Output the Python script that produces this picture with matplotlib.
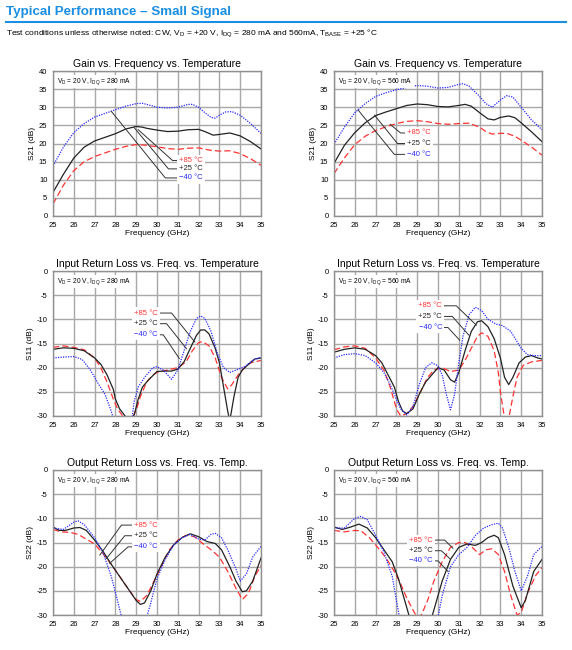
import matplotlib
matplotlib.use("Agg")
import matplotlib.pyplot as plt
import numpy as np

plt.rcParams['font.family'] = ['Liberation Sans', 'DejaVu Sans']
plt.rcParams['axes.unicode_minus'] = False

# ---- Gain, Idq = 280 mA ----
g280_f_m40 = [25, 25.5, 26, 26.5, 27, 27.5, 28, 28.5, 29, 29.3, 29.5, 30, 30.5, 31, 31.5, 31.7, 32, 32.3, 32.6, 32.8, 33, 33.3, 33.6, 34, 34.5, 35]
g280_m40 = [13.8, 19, 23, 25.5, 27.3, 28.3, 29.3, 30.3, 31.0, 31.1, 30.8, 30.0, 29.8, 30.0, 30.8, 30.8, 30.0, 28.5, 27.2, 27.0, 27.8, 28.7, 28.8, 27.8, 25.5, 22.8]
g280_f_p25 = [25, 25.5, 26, 26.5, 27, 27.5, 28, 28.5, 29, 29.3, 29.5, 30, 30.5, 31, 31.5, 32, 32.3, 32.7, 33, 33.5, 34, 34.5, 35]
g280_p25 = [6.5, 11.5, 16, 19, 20.7, 21.7, 22.7, 24.0, 24.7, 24.5, 24.2, 23.7, 23.3, 23.4, 23.8, 23.9, 23.3, 22.3, 22.5, 22.9, 22.1, 20.5, 18.5]
g280_f_p85 = [25, 25.5, 26, 26.5, 27, 27.5, 28, 28.5, 29, 29.5, 30, 30.5, 31, 31.5, 32, 32.5, 33, 33.5, 34, 34.5, 35]
g280_p85 = [3.3, 8.5, 12.5, 15.0, 16.4, 17.4, 18.4, 19.2, 19.7, 19.5, 19.1, 18.6, 18.4, 18.7, 18.8, 18.2, 17.9, 18.0, 17.2, 15.8, 14.0]

# ---- Gain, Idq = 560 mA ----
g560_f_m40 = [25, 25.5, 26, 26.5, 27, 27.5, 28, 28.5, 29, 29.5, 30, 30.5, 31, 31.2, 31.5, 32, 32.3, 32.6, 33, 33.3, 33.6, 34, 34.5, 35]
g560_m40 = [19.8, 24.5, 28.5, 31.0, 33.0, 34.0, 34.8, 35.5, 36.0, 35.8, 35.3, 35.5, 36.3, 36.5, 35.8, 33.0, 31.0, 30.0, 32.0, 33.2, 32.8, 30.0, 26.5, 23.8]
g560_f_p25 = [25, 25.5, 26, 26.5, 27, 27.5, 28, 28.5, 29, 29.5, 30, 30.5, 31, 31.3, 31.6, 32, 32.4, 32.7, 33, 33.4, 33.7, 34, 34.5, 35]
g560_p25 = [14.5, 19.5, 23, 25.7, 27.7, 28.7, 29.6, 30.5, 30.9, 30.7, 30.2, 30.1, 30.5, 30.8, 30.3, 28.5, 26.8, 26.5, 27.2, 27.6, 27.1, 25.7, 23.2, 20.5]
g560_f_p85 = [25, 25.5, 26, 26.5, 27, 27.5, 28, 28.5, 29, 29.5, 30, 30.5, 31, 31.5, 32, 32.3, 32.6, 33, 33.3, 33.7, 34, 34.5, 35]
g560_p85 = [11.7, 16, 19.7, 22, 23.6, 24.6, 25.5, 26.1, 26.3, 26.0, 25.5, 25.3, 25.5, 25.6, 24.5, 23.3, 22.6, 22.8, 22.8, 22.0, 20.9, 19.0, 16.8]

# ---- S11, Idq = 280 mA ----
s11a_f_p25 = [25, 25.5, 26, 26.5, 27, 27.3, 27.6, 27.9, 28.0, 28.2, 28.5, 28.8, 28.9, 29.1, 29.3, 29.6, 30, 30.3, 30.7, 31, 31.3, 31.6, 31.9, 32.1, 32.3, 32.5, 32.8, 33, 33.2, 33.4, 33.5, 33.7, 33.9, 34.1, 34.4, 34.7, 35]
s11a_p25 = [-16.2, -15.9, -16.0, -16.5, -18.0, -19.3, -21.5, -24.5, -26.5, -28.5, -30.2, -30.5, -29.8, -26.5, -24.0, -22.5, -20.8, -20.7, -20.7, -20.3, -18.8, -16.0, -13.3, -12.2, -12.2, -13.0, -16.0, -19.0, -24.0, -29.0, -31.0, -26.0, -22.0, -20.5, -19.3, -18.2, -18.0]
s11a_f_p85 = [25, 25.5, 26, 26.5, 27, 27.3, 27.6, 27.9, 28.1, 28.4, 28.8, 29.0, 29.2, 29.5, 29.8, 30, 30.5, 31, 31.4, 31.7, 32, 32.2, 32.5, 32.8, 33.1, 33.4, 33.6, 33.9, 34.2, 34.5, 35]
s11a_p85 = [-15.8, -15.5, -15.8, -16.3, -18.0, -20.0, -23.0, -26.5, -28.5, -30.3, -30.5, -28.8, -26.0, -23.0, -21.5, -21.0, -20.5, -20.0, -18.8, -16.5, -14.8, -14.6, -15.5, -18.0, -22.0, -24.4, -23.5, -21.5, -20.0, -19.0, -18.5]
s11a_f_m40 = [25, 25.5, 26, 26.4, 26.8, 27.2, 27.5, 27.8, 27.9, 28.8, 28.9, 29.1, 29.4, 29.8, 30, 30.3, 30.7, 31, 31.3, 31.6, 31.9, 32.1, 32.3, 32.6, 32.9, 33.2, 33.5, 33.8, 34.2, 34.6, 35]
s11a_m40 = [-18.0, -17.8, -17.7, -18.3, -20.5, -23.5, -25.5, -29.0, -30.5, -30.5, -27.0, -24.0, -22.0, -20.0, -19.8, -20.5, -22.4, -20.5, -16.5, -12.5, -9.8, -9.3, -9.8, -12.5, -17.0, -20.0, -21.0, -20.5, -19.8, -18.5, -17.8]

# ---- S11, Idq = 560 mA ----
s11b_f_p25 = [25, 25.5, 26, 26.5, 27, 27.3, 27.6, 27.9, 28.1, 28.3, 28.5, 28.8, 29.1, 29.4, 29.7, 30, 30.3, 30.6, 30.8, 31.0, 31.3, 31.6, 31.9, 32.1, 32.4, 32.7, 33.0, 33.2, 33.4, 33.6, 33.9, 34.2, 34.5, 34.8, 35]
s11b_p25 = [-16.8, -16.2, -15.9, -16.2, -17.5, -19.0, -21.5, -24.0, -27.0, -29.0, -29.5, -28.5, -25.5, -23.0, -21.5, -20.0, -20.5, -22.5, -23.0, -21.0, -16.5, -12.5, -10.5, -10.3, -11.5, -14.0, -18.0, -22.0, -23.5, -22.0, -19.0, -17.8, -17.5, -18.0, -18.2]
s11b_f_p85 = [25, 25.5, 26, 26.5, 27, 27.4, 27.7, 28.0, 28.2, 28.5, 28.8, 29.1, 29.5, 29.8, 30.2, 30.6, 31.0, 31.3, 31.6, 31.9, 32.1, 32.4, 32.7, 32.9, 33.0, 33.2, 33.4, 33.6, 33.8, 34.1, 34.5, 35]
s11b_p85 = [-16.3, -15.7, -15.5, -16.0, -18.0, -20.5, -24.0, -28.5, -30.0, -29.5, -28.0, -25.5, -22.0, -20.5, -20.0, -20.8, -20.5, -18.5, -16.0, -13.5, -12.8, -13.5, -16.5, -21.0, -25.0, -30.5, -30.5, -26.0, -22.0, -19.5, -18.8, -18.5]
s11b_f_m40 = [25, 25.5, 26, 26.5, 27, 27.4, 27.7, 28.0, 28.2, 28.5, 28.8, 29.1, 29.4, 29.7, 30.0, 30.2, 30.4, 30.6, 30.8, 31.0, 31.2, 31.5, 31.8, 32.1, 32.4, 32.8, 33.1, 33.5, 34.0, 34.3, 34.6, 35]
s11b_m40 = [-18.0, -17.3, -17.1, -17.5, -19.0, -21.0, -23.5, -26.5, -28.5, -29.8, -28.0, -23.5, -20.0, -19.0, -19.6, -21.5, -25.5, -28.7, -25.5, -19.0, -13.5, -9.0, -7.5, -8.2, -10.0, -11.0, -11.3, -12.5, -16.0, -17.3, -17.5, -17.5]

# ---- S22, Idq = 280 mA ----
s22a_f_p25 = [25, 25.3, 25.6, 26, 26.3, 26.6, 27, 27.4, 27.8, 28.2, 28.6, 29.0, 29.2, 29.4, 29.7, 30, 30.4, 30.8, 31.2, 31.6, 32.0, 32.4, 32.8, 33.1, 33.5, 33.8, 34.1, 34.3, 34.6, 35]
s22a_p25 = [-11.8, -12.5, -12.5, -12.0, -11.9, -12.5, -14.5, -16.8, -19.5, -22.0, -24.5, -27.0, -27.8, -27.5, -25.0, -21.5, -18.0, -15.5, -14.0, -13.2, -13.8, -14.8, -15.2, -16.5, -20.0, -23.0, -25.2, -25.0, -23.0, -18.2]
s22a_f_p85 = [25, 25.4, 25.8, 26.2, 26.6, 27, 27.4, 27.8, 28.2, 28.6, 29.0, 29.2, 29.5, 29.8, 30.2, 30.6, 31.0, 31.4, 31.8, 32.2, 32.6, 33.0, 33.4, 33.8, 34.1, 34.4, 34.7, 35]
s22a_p85 = [-12.3, -12.8, -12.9, -13.3, -14.3, -15.3, -17.3, -19.5, -22.0, -24.5, -26.8, -27.2, -26.0, -23.5, -20.0, -16.5, -14.5, -13.5, -13.8, -15.2, -16.5, -18.0, -21.0, -24.5, -26.8, -25.5, -22.0, -19.8]
s22a_f_m40 = [25, 25.5, 26, 26.2, 26.5, 27, 27.4, 27.8, 28.1, 28.3, 29.5, 29.7, 30, 30.4, 30.8, 31.2, 31.6, 32.0, 32.3, 32.6, 32.8, 33.1, 33.4, 33.8, 34.0, 34.3, 34.6, 35]
s22a_m40 = [-12.0, -12.3, -10.8, -10.5, -11.3, -14.0, -17.0, -22.0, -27.0, -30.5, -30.5, -27.5, -22.5, -18.5, -15.5, -14.0, -13.3, -14.3, -14.5, -13.3, -13.1, -14.0, -16.5, -20.5, -23.0, -21.5, -18.0, -15.8]

# ---- S22, Idq = 560 mA ----
s22b_f_p25 = [25, 25.4, 25.8, 26.2, 26.6, 27, 27.4, 27.8, 28.1, 28.4, 28.6, 28.7, 29.7, 29.9, 30.2, 30.6, 31.0, 31.4, 31.8, 32.1, 32.4, 32.7, 32.9, 33.2, 33.6, 34.0, 34.2, 34.6, 35]
s22b_p25 = [-11.8, -12.3, -11.8, -11.2, -12.0, -14.0, -16.5, -19.0, -22.5, -27.0, -30.0, -30.5, -30.5, -27.5, -23.0, -18.5, -16.0, -15.3, -15.6, -15.0, -14.0, -13.5, -14.0, -17.5, -24.0, -28.5, -27.0, -21.0, -18.5]
s22b_f_p85 = [25, 25.5, 26, 26.3, 26.7, 27.1, 27.5, 27.9, 28.2, 28.5, 28.8, 29.0, 29.2, 29.5, 29.8, 30.2, 30.6, 31.0, 31.3, 31.6, 32.0, 32.3, 32.6, 32.9, 33.2, 33.5, 33.8, 34.0, 34.3, 34.7, 35]
s22b_p85 = [-12.5, -12.8, -12.5, -12.6, -14.0, -16.0, -18.2, -21.0, -23.5, -26.5, -29.0, -30.5, -30.0, -27.0, -23.0, -19.0, -16.0, -15.0, -15.0, -15.8, -17.5, -16.5, -16.3, -17.5, -21.0, -26.0, -30.0, -29.5, -25.5, -21.8, -20.2]
s22b_f_m40 = [25, 25.5, 26, 26.3, 26.6, 27, 27.4, 27.8, 28.0, 28.15, 30.0, 30.2, 30.6, 31.0, 31.4, 31.8, 32.2, 32.6, 32.9, 33.1, 33.4, 33.7, 34.0, 34.3, 34.6, 35]
s22b_m40 = [-12.0, -12.0, -10.0, -9.6, -10.3, -13.5, -17.0, -22.0, -27.0, -30.5, -30.5, -26.0, -20.0, -17.5, -16.0, -13.5, -12.0, -11.3, -11.0, -12.0, -16.0, -21.0, -25.0, -22.0, -17.5, -15.8]

temp_labels = ['+85 °C', '+25 °C', '\u221240 °C']
temp_colors = ['#ff3333', '#222222', '#2a2aff']
bias_280 = 'V$_\\mathregular{D}$ = 20 V, I$_\\mathregular{DQ}$ = 280 mA'
bias_560 = 'V$_\\mathregular{D}$ = 20 V, I$_\\mathregular{DQ}$ = 560 mA'

BLUE = '#1a8fe3'
fig = plt.figure(figsize=(5.72, 6.5), dpi=100)

fig.text(6 / 572, 1 - 12 / 650, 'Typical Performance \u2013 Small Signal', color=BLUE,
         fontsize=9.6, fontweight='bold', va='center', ha='left')
fig.add_artist(plt.Line2D([6 / 572, 566 / 572], [1 - 22 / 650, 1 - 22 / 650], color=BLUE, lw=1.5))
fig.text(6 / 572, 1 - 34 / 650,
         'Test conditions unless otherwise noted: CW, V$_\\mathregular{D}$ = +20 V, I$_\\mathregular{DQ}$ = 280 mA and 560mA, '
         'T$_\\mathregular{BASE}$ = +25 °C', fontsize=6, va='center', ha='left')


def panel(rect, title, ylabel, ylim, ystep, bias, series, leaders):
    ax = fig.add_axes(rect)
    ax.set_xlim(25, 35)
    ax.set_ylim(*ylim)
    ax.set_xticks(np.arange(25, 36, 1))
    ax.set_yticks(np.arange(ylim[0], ylim[1] + 0.1, ystep))
    ax.grid(True, color='#a8a8a8', lw=1.0)
    ax.set_axisbelow(True)
    for s in ax.spines.values():
        s.set_color('#909090')
        s.set_linewidth(1.0)
    ax.tick_params(labelsize=5.5, length=0, pad=4)
    ax.set_title(title, fontsize=7.5, pad=3)
    ax.set_xlabel('Frequency (GHz)', fontsize=6, labelpad=1)
    ax.set_ylabel(ylabel, fontsize=6, labelpad=2)
    (fp85, vp85), (fp25, vp25), (fm40, vm40) = series
    ax.plot(fp85, vp85, color=temp_colors[0], lw=0.9, ls=(0, (5, 2.5)))
    ax.plot(fp25, vp25, color=temp_colors[1], lw=0.9, ls='-')
    ax.plot(fm40, vm40, color=temp_colors[2], lw=0.9, ls=(0, (1, 1)))
    ax.text(0.02, 0.965, bias, transform=ax.transAxes, fontsize=4.8, va='top', ha='left',
            bbox=dict(fc='white', ec='none', pad=1))
    for (lab, col), (pts, tx, ty, side) in zip(zip(temp_labels, temp_colors), leaders):
        xs = [p[0] for p in pts]
        ys = [p[1] for p in pts]
        ax.plot(xs, ys, color='#333333', lw=0.7)
        ax.text(tx, ty, lab, color=col, fontsize=5.5, va='center', ha=side,
                bbox=dict(fc='white', ec='none', pad=1.5))
    return ax


L, R, W, H = 53 / 572, 334 / 572, 208 / 572, 145 / 650
rows = [1 - 216 / 650, 1 - 416 / 650, 1 - 615 / 650]

panel([L, rows[0], W, H], 'Gain vs. Frequency vs. Temperature', 'S21 (dB)', (0, 40), 5, bias_280,
      [(g280_f_p85, g280_p85), (g280_f_p25, g280_p25), (g280_f_m40, g280_m40)],
      [([(29.1, 23.8), (30.75, 15.3), (31.0, 15.3)], 31.05, 15.3, 'left'),
       ([(28.9, 24.4), (30.55, 13.0), (31.0, 13.0)], 31.05, 13.0, 'left'),
       ([(27.8, 28.9), (30.4, 10.5), (31.0, 10.5)], 31.05, 10.5, 'left')])

panel([R, rows[0], W, H], 'Gain vs. Frequency vs. Temperature', 'S21 (dB)', (0, 40), 5, bias_560,
      [(g560_f_p85, g560_p85), (g560_f_p25, g560_p25), (g560_f_m40, g560_m40)],
      [([(27.7, 25.3), (28.2, 22.9), (28.45, 22.9)], 28.5, 22.9, 'left'),
       ([(26.95, 27.8), (28.05, 20.0), (28.45, 20.0)], 28.5, 20.0, 'left'),
       ([(26.15, 29.3), (27.9, 17.0), (28.45, 17.0)], 28.5, 17.0, 'left')])

panel([L, rows[1], W, H], 'Input Return Loss vs. Freq. vs. Temperature', 'S11 (dB)', (-30, 0), 5, bias_280,
      [(s11a_f_p85, s11a_p85), (s11a_f_p25, s11a_p25), (s11a_f_m40, s11a_m40)],
      [([(30.1, -8.7), (30.7, -8.7), (31.82, -14.7)], 30.05, -8.7, 'right'),
       ([(30.1, -10.9), (30.46, -10.9), (31.42, -16.1)], 30.05, -10.9, 'right'),
       ([(30.1, -13.2), (30.3, -13.2), (31.07, -18.1)], 30.05, -13.2, 'right')])

panel([R, rows[1], W, H], 'Input Return Loss vs. Freq. vs. Temperature', 'S11 (dB)', (-30, 0), 5, bias_560,
      [(s11b_f_p85, s11b_p85), (s11b_f_p25, s11b_p25), (s11b_f_m40, s11b_m40)],
      [([(30.25, -7.2), (30.88, -7.2), (31.84, -11.2)], 30.2, -7.2, 'right'),
       ([(30.25, -9.4), (30.69, -9.4), (31.49, -13.3)], 30.2, -9.4, 'right'),
       ([(30.25, -11.7), (30.48, -11.7), (31.04, -14.3)], 30.2, -11.7, 'right')])

panel([L, rows[2], W, H], 'Output Return Loss vs. Freq. vs. Temp.', 'S22 (dB)', (-30, 0), 5, bias_280,
      [(s22a_f_p85, s22a_p85), (s22a_f_p25, s22a_p25), (s22a_f_m40, s22a_m40)],
      [([(28.85, -11.4), (28.29, -11.4), (27.25, -17.6)], 28.9, -11.4, 'left'),
       ([(28.85, -13.6), (28.45, -13.6), (27.57, -18.3)], 28.9, -13.6, 'left'),
       ([(28.85, -15.9), (28.61, -15.9), (27.73, -19.3)], 28.9, -15.9, 'left')])

panel([R, rows[2], W, H], 'Output Return Loss vs. Freq. vs. Temp.', 'S22 (dB)', (-30, 0), 5, bias_560,
      [(s22b_f_p85, s22b_p85), (s22b_f_p25, s22b_p25), (s22b_f_m40, s22b_m40)],
      [([(29.8, -14.5), (30.32, -14.5), (30.72, -16.2)], 29.75, -14.5, 'right'),
       ([(29.8, -16.7), (30.16, -16.7), (30.56, -18.3)], 29.75, -16.7, 'right'),
       ([(29.8, -18.8), (30.0, -18.8), (30.48, -21.0)], 29.75, -18.8, 'right')])

fig.savefig('out.png', dpi=100)
